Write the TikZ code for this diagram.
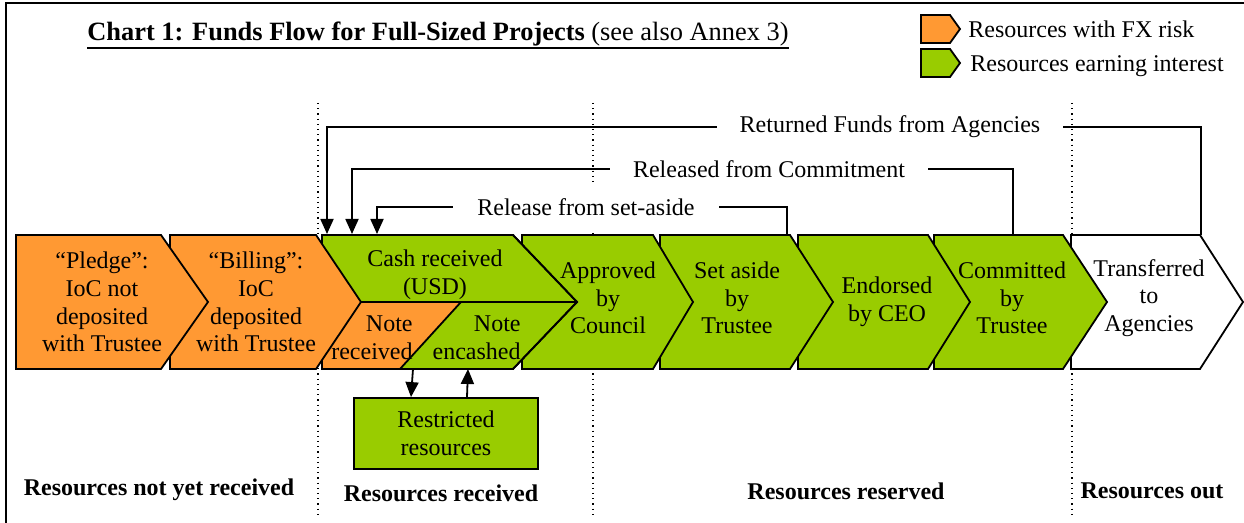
\documentclass[tikz,border=0pt]{standalone}
\usepackage{fontspec}
\setmainfont{Liberation Serif}
\usetikzlibrary{arrows.meta}
\definecolor{fxorange}{HTML}{FF9933}
\definecolor{intgreen}{HTML}{99CC00}
\newcommand{\chevshape}[4]{\filldraw[chev,fill=#4] (#1,235) -- (#2,235) -- (#3,302) -- (#2,369) -- (#1,369) -- cycle;}
\begin{document}
\begin{tikzpicture}[x=0.5pt,y=-0.5pt,
  chev/.style={draw=black,line width=0.9pt,line join=miter},
  txt/.style={font=\fontsize{12}{13.8}\selectfont,align=center,inner sep=0pt},
  boldlbl/.style={font=\fontsize{12}{14}\selectfont\bfseries,inner sep=0pt},
  flow/.style={line width=0.9pt,-{Triangle[length=7.5pt,width=6.5pt]}},
  sepline/.style={dotted,line width=0.6pt},
  toplbl/.style={font=\fontsize{12}{14}\selectfont,fill=white,inner xsep=11.5pt,inner ysep=2pt},
  legtxt/.style={font=\fontsize{12}{14}\selectfont,anchor=base west,inner sep=0pt},
]
\useasboundingbox (0,0) rectangle (1244,523);
% frame
\draw[line width=1.1pt] (6,523) -- (6,3) -- (1244,3);
% title
\node[anchor=base west,inner sep=0pt,font=\fontsize{13.2}{16}\selectfont] (title) at (87,41)
  {\textbf{Chart 1: Funds Flow for Full-Sized Projects} (see also Annex 3)};
\draw[line width=0.85pt] ([yshift=-3.5pt]title.base west) -- ([yshift=-3.5pt]title.base east);
% legend
\filldraw[chev,fill=fxorange] (921,15) -- (950,15) -- (960,29) -- (950,43) -- (921,43) -- cycle;
\filldraw[chev,fill=intgreen] (921,49) -- (950,49) -- (960,63) -- (950,77) -- (921,77) -- cycle;
\node[legtxt] (legfx) at (968,38) {Resources with FX risk};
\node[legtxt] (legint) at (970,72) {Resources earning interest};
% separators
\draw[sepline] (318,103) -- (318,518);
\draw[sepline] (593,103) -- (593,518);
\draw[sepline] (1072,103) -- (1072,518);
% chevrons (right to left so each tip lies over the next)
\chevshape{1071}{1200}{1243}{white}
\chevshape{934}{1063}{1107}{intgreen}
\chevshape{798}{928}{970}{intgreen}
\chevshape{660}{790}{833}{intgreen}
\chevshape{522}{653}{693}{intgreen}
\chevshape{322}{513}{577}{intgreen}
\fill[fxorange] (322,302) -- (461,302) -- (400,369) -- (322,369) -- cycle;
\draw[chev] (322,302) -- (577,302);
\draw[chev] (461,302) -- (400,369);
\draw[chev] (322,235) -- (513,235) -- (577,302) -- (513,369) -- (322,369) -- cycle;
\chevshape{170}{316}{361}{fxorange}
\chevshape{16}{161}{208}{fxorange}
% texts
\node[txt] (pledge) at (102,302) {“Pledge”:\\IoC not\\deposited\\with Trustee};
\node[txt] (billing) at (256,302) {“Billing”:\\IoC\\deposited\\with Trustee};
\node[txt] (cash) at (435,275) {Cash received\\(USD)};
\node[txt,align=right,anchor=east] (noterec) at (413,338) {Note\\received};
\node[txt,align=right,anchor=east] (noteenc) at (521,338) {Note\\encashed};
\node[txt] (approved) at (608,298) {Approved\\by\\Council};
\node[txt] (setaside) at (737,298) {Set aside\\by\\Trustee};
\node[txt] (endorsed) at (887,302) {Endorsed\\by CEO};
\node[txt] (committed) at (1012,298) {Committed\\by\\Trustee};
\node[txt] (transferred) at (1149,298) {Transferred\\to\\Agencies};
% restricted resources
\node[txt,draw,line width=0.9pt,fill=intgreen,minimum width=92pt,minimum height=35.5pt] (rr) at (446,433.5) {Restricted\\resources};
\coordinate (nrbot) at (413,369);
\coordinate (nebot) at (468,369);
\draw[flow] (nrbot) -- ([xshift=-17.5pt]rr.north);
\draw[flow] ([xshift=10.5pt]rr.north) -- (nebot);
% return flows
\coordinate (trtop) at (1201,235);
\coordinate (cmtop) at (1013,235);
\coordinate (satop) at (787,235);
\coordinate (a1) at (327,234);
\coordinate (a2) at (352,234);
\coordinate (a3) at (377,234);
\draw[flow] (trtop) -- ++(0,-108) -| (a1);
\draw[flow] (cmtop) -- ++(0,-66) -| (a2);
\draw[flow] (satop) -- ++(0,-28) -| (a3);
\node[toplbl] (retlbl) at (890,127) {Returned Funds from Agencies};
\node[toplbl] (rellbl) at (769,169) {Released from Commitment};
\node[toplbl,inner xsep=12pt,inner ysep=7pt] (salbl) at (586,207) {Release from set-aside};
% bottom labels
\node[boldlbl] (b1) at (159,490) {Resources not yet received};
\node[boldlbl] (b2) at (441,493) {Resources received};
\node[boldlbl] (b3) at (846,491) {Resources reserved};
\node[boldlbl] (b4) at (1152,491) {Resources out};
\end{tikzpicture}
\end{document}
